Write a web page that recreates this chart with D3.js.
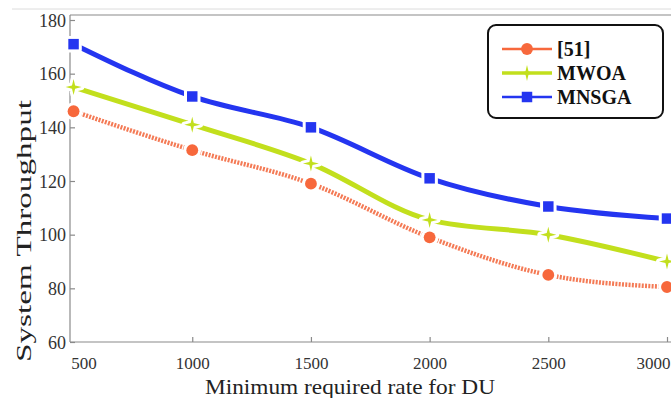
<!DOCTYPE html>
<html>
<head>
<meta charset="utf-8">
<script src="https://cdn.jsdelivr.net/npm/d3@7/dist/d3.min.js"></script>
<style>
  html, body { margin: 0; padding: 0; background: #fff; }
  svg { display: block; }
  svg text { font-family: "Liberation Serif", "DejaVu Serif", serif !important; }
</style>
</head>
<body>
<svg id="chart" width="671" height="398"></svg>
<script>
// Minimum required rate for DU (x) and system throughput of each method
const rates = [500, 1000, 1500, 2000, 2500, 3000];
const ref51 = [146, 131.5, 119, 99, 85, 80.5];
const mwoa = [155, 141, 126.5, 105.5, 100, 90];
const mnsga = [171, 151.5, 140, 121, 110.5, 106];
const yTicks = [60, 80, 100, 120, 140, 160, 180];
const xTicks = [500, 1000, 1500, 2000, 2500, 3000];
const seriesNames = ["[51]", "MWOA", "MNSGA"];

const svg = d3.select("#chart");
const W = 671, H = 398;
const m = { left: 70, top: 20, right: 4, bottom: 56 };

const x = d3.scaleLinear().domain([485, 3000]).range([m.left, 667]);
const y = d3.scaleLinear().domain([60, 180]).range([342, 20]);

const axisColor = "#8a8a8a";
const serif = "'Liberation Serif', 'DejaVu Serif', serif";

// faint frame line across the top
svg.append("line").attr("x1", 12).attr("x2", W).attr("y1", 9).attr("y2", 9)
  .attr("stroke", "#dcdcdc").attr("stroke-width", 1);
// plot box top edge
svg.append("line").attr("x1", m.left).attr("x2", W).attr("y1", 15).attr("y2", 15)
  .attr("stroke", axisColor).attr("stroke-width", 1.2);

// y axis (ticks point into the plot)
const yAxis = d3.axisLeft(y).tickValues(yTicks).tickFormat(d3.format("d"))
  .tickSizeInner(-5).tickSizeOuter(0).tickPadding(4);
const gy = svg.append("g").attr("transform", `translate(${m.left},0)`).call(yAxis)
  .attr("font-family", serif);
gy.select(".domain").remove();
gy.selectAll(".tick line").attr("stroke", axisColor).attr("stroke-width", 1.2);
gy.selectAll(".tick text").attr("font-size", 18).attr("fill", "#333")
  .style("font-family", serif).attr("x", -4).attr("dy", "0.35em");
svg.append("line").attr("x1", m.left).attr("x2", m.left).attr("y1", 15).attr("y2", 342)
  .attr("stroke", axisColor).attr("stroke-width", 1.2);

// x axis
const xAxis = d3.axisBottom(x).tickValues(xTicks).tickFormat(d3.format("d"))
  .tickSizeInner(-5).tickSizeOuter(0).tickPadding(10);
const gx = svg.append("g").attr("transform", `translate(0,342)`).call(xAxis)
  .attr("font-family", serif);
gx.select(".domain").remove();
gx.selectAll(".tick line").attr("stroke", axisColor).attr("stroke-width", 1.2)
  .filter(d => d === 500).remove();
gx.selectAll(".tick text").attr("font-size", 17).attr("fill", "#333")
  .style("font-family", serif).attr("y", 15).attr("dy", "0.71em");
// first label sits a little right of the axis corner, last one against the edge
gx.selectAll(".tick text").filter(d => d === 500).attr("x", 10);
gx.selectAll(".tick text").filter(d => d === 3000)
  .attr("text-anchor", "end").attr("x", 670 - x(3000));
svg.append("line").attr("x1", m.left).attr("x2", W).attr("y1", 342).attr("y2", 342)
  .attr("stroke", axisColor).attr("stroke-width", 1.2);

// axis titles
svg.append("text").attr("x", 350).attr("y", 393.5).attr("text-anchor", "middle")
  .style("font-family", serif)
  .attr("font-size", 21).attr("fill", "#222")
  .attr("textLength", 290).attr("lengthAdjust", "spacingAndGlyphs")
  .text("Minimum required rate for DU");
svg.append("text")
  .attr("transform", "translate(31,231) rotate(-90)")
  .style("font-family", serif)
  .attr("text-anchor", "middle").attr("font-size", 22).attr("fill", "#222")
  .attr("textLength", 262).attr("lengthAdjust", "spacingAndGlyphs")
  .text("System Throughput");

// marker shapes
function starPath(R, r) {
  const pts = [];
  for (let i = 0; i < 8; i++) {
    const a = -Math.PI / 2 + i * Math.PI / 4;
    const rad = i % 2 === 0 ? R : r;
    pts.push([Math.cos(a) * rad, Math.sin(a) * rad]);
  }
  return d3.line()(pts) + "Z";
}
const markers = {
  circle: d3.symbol(d3.symbolCircle, 110)(),
  square: d3.symbol(d3.symbolSquare, 110)(),
  star: starPath(8, 2.2)
};

const series = [
  { name: seriesNames[0], values: ref51, color: "#f7683c", marker: "circle", dash: "2,1.3", width: 4.5, lineColor: "#f47a55" },
  { name: seriesNames[1], values: mwoa, color: "#c2df1d", marker: "star", dash: null, width: 5, lineColor: "#c2df1d" },
  { name: seriesNames[2], values: mnsga, color: "#2435f0", marker: "square", dash: null, width: 5, lineColor: "#2435f0" }
];

const line = d3.line().x((d, i) => x(rates[i])).y(d => y(d)).curve(d3.curveMonotoneX);

series.forEach(s => {
  svg.append("path").datum(s.values).attr("d", line)
    .attr("fill", "none").attr("stroke", s.lineColor).attr("stroke-width", s.width)
    .attr("stroke-dasharray", s.dash);
});

series.forEach(s => {
  const g = svg.append("g");
  g.selectAll("path.halo").data(s.values).join("path").attr("class", "halo")
    .attr("d", markers[s.marker])
    .attr("transform", (d, i) => `translate(${x(rates[i])},${y(d)})`)
    .attr("fill", "#fff").attr("stroke", "#fff").attr("stroke-width", 6).attr("stroke-linejoin", "round");
  g.selectAll("path.mk").data(s.values).join("path").attr("class", "mk")
    .attr("d", markers[s.marker])
    .attr("transform", (d, i) => `translate(${x(rates[i])},${y(d)})`)
    .attr("fill", s.color);
});

// legend
const lg = svg.append("g");
lg.append("rect").attr("x", 488).attr("y", 25).attr("width", 175).attr("height", 93)
  .attr("rx", 8).attr("ry", 8).attr("fill", "#fff").attr("stroke", "#111").attr("stroke-width", 2);
const legendY = [49, 73, 97];
const legendW = [2.5, 3.5, 2.5];
series.forEach((s, i) => {
  const yy = legendY[i];
  lg.append("line").attr("x1", 502).attr("x2", 552).attr("y1", yy).attr("y2", yy)
    .attr("stroke", s.color).attr("stroke-width", legendW[i]);
  lg.append("path").attr("d", markers[s.marker])
    .attr("transform", `translate(527,${yy})`).attr("fill", s.color);
  lg.append("text").attr("x", 557).attr("y", yy).attr("dy", "0.35em")
    .style("font-family", serif)
    .attr("font-size", 20).attr("font-weight", "bold").attr("fill", "#111").text(s.name);
});
</script>
</body>
</html>
